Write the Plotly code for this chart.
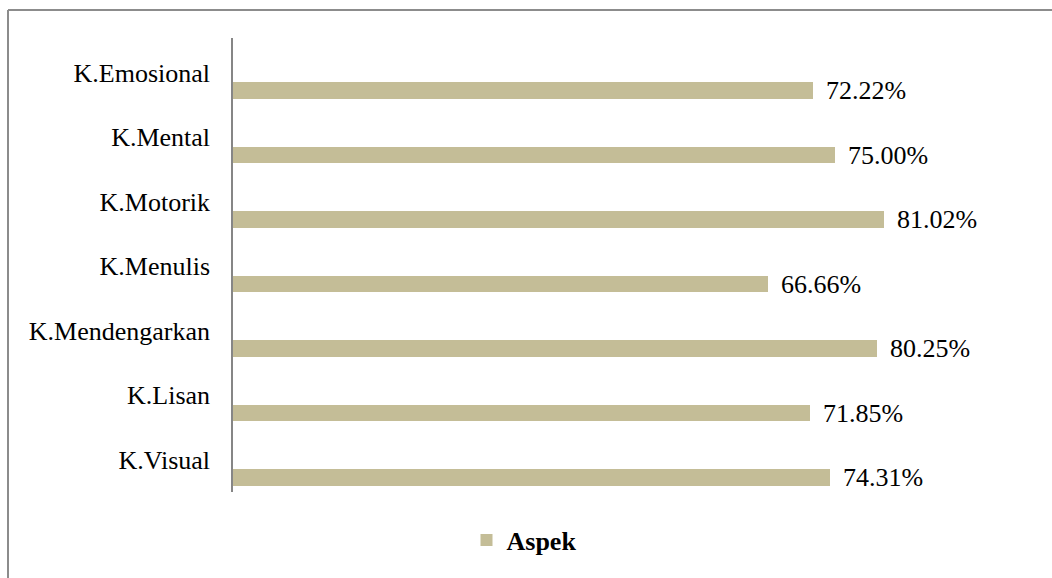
import plotly.graph_objects as go

categories = ["K.Emosional", "K.Mental", "K.Motorik", "K.Menulis",
              "K.Mendengarkan", "K.Lisan", "K.Visual"]
values = [72.22, 75.00, 81.02, 66.66, 80.25, 71.85, 74.31]
labels = ["72.22%", "75.00%", "81.02%", "66.66%", "80.25%", "71.85%", "74.31%"]
series_name = "Aspek"

W, H = 1052, 578
ml, mr, mt, mb = 233, 16, 38, 86
pw, ph = W - ml - mr, H - mt - mb
FONT = "'Times New Roman', 'Liberation Serif', serif"

def px(x):
    return (x - ml) / pw

def py(y):
    return (H - mb - y) / ph

fig = go.Figure()
fig.add_trace(go.Bar(
    x=values, y=categories, orientation="h", name=series_name,
    marker=dict(color="#C4BD97", line=dict(width=0)),
    width=0.26, offset=0.147, showlegend=True,
))

for v, c, t in zip(values, categories, labels):
    fig.add_annotation(x=v, y=c, text=t, showarrow=False, xanchor="left",
                       yanchor="middle", xshift=11, yshift=-18,
                       font=dict(family=FONT, size=26, color="black"))

fig.add_shape(type="line", xref="paper", yref="paper", x0=px(8), x1=px(1060),
              y0=py(10), y1=py(10), line=dict(color="#8c8c8c", width=2))
fig.add_shape(type="line", xref="paper", yref="paper", x0=px(8), x1=px(8),
              y0=py(10), y1=py(600), line=dict(color="#8c8c8c", width=2))

fig.update_layout(
    width=W, height=H,
    margin=dict(l=ml, r=mr, t=mt, b=mb, pad=0),
    paper_bgcolor="white", plot_bgcolor="white",
    font=dict(family=FONT, size=26, color="black"),
    xaxis=dict(range=[0, 100], visible=False, showgrid=False, zeroline=False),
    yaxis=dict(type="category", autorange="reversed", showgrid=False,
               showline=True, linecolor="#868686", linewidth=1.5,
               ticks="outside", ticklen=16, tickcolor="rgba(0,0,0,0)",
               tickfont=dict(family=FONT, size=26, color="black")),
    showlegend=True,
    legend=dict(orientation="h", x=px(524), xanchor="center", y=py(540),
                yanchor="middle", font=dict(family=FONT, size=26,
                                             color="black", weight="bold"),
                itemwidth=30, bgcolor="rgba(0,0,0,0)"),
    bargap=0,
)

fig.write_html("out.html")
